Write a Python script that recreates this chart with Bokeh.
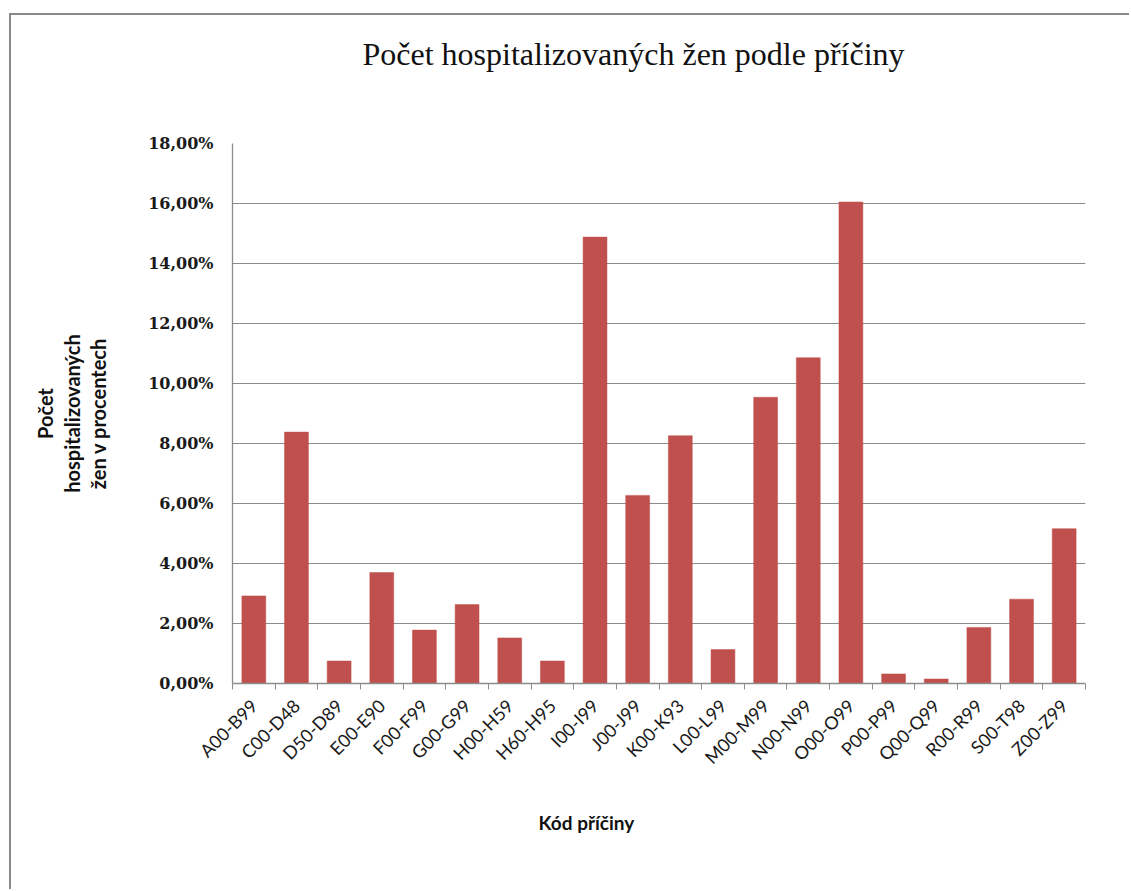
from bokeh.plotting import figure
from bokeh.models import FixedTicker, Range1d, Title
from bokeh.embed import file_html
from bokeh.resources import INLINE

categories = ["A00-B99", "C00-D48", "D50-D89", "E00-E90", "F00-F99", "G00-G99",
              "H00-H59", "H60-H95", "I00-I99", "J00-J99", "K00-K93", "L00-L99",
              "M00-M99", "N00-N99", "O00-O99", "P00-P99", "Q00-Q99", "R00-R99",
              "S00-T98", "Z00-Z99"]
values = [2.92, 8.38, 0.75, 3.70, 1.78, 2.63, 1.52, 0.75, 14.88, 6.27,
          8.26, 1.13, 9.54, 10.86, 16.05, 0.32, 0.15, 1.87, 2.81, 5.16]
y_ticks = [0, 2, 4, 6, 8, 10, 12, 14, 16, 18]
y_tick_labels = ["0,00%", "2,00%", "4,00%", "6,00%", "8,00%", "10,00%",
                 "12,00%", "14,00%", "16,00%", "18,00%"]
title_text = "Počet hospitalizovaných žen podle příčiny"
x_title = "Kód příčiny"
y_title = "Počet\nhospitalizovaných\nžen v procentech"

GRAY = "#8c8c8c"
BAR = "#C0504D"

p = figure(width=1120, height=876, output_backend="svg", toolbar_location=None,
           x_range=Range1d(0, len(categories)), y_range=Range1d(0, 18),
           min_border_left=221, min_border_right=46, min_border_top=128,
           min_border_bottom=208, margin=(13, 0, 0, 9),
           styles={"border-top": "2px solid #8a8a8a", "border-left": "2px solid #8a8a8a"})
p.outline_line_color = None
p.background_fill_color = "white"
p.border_fill_color = "white"

xs = [i + 0.5 for i in range(len(categories))]
p.vbar(x=xs, top=values, width=0.56, bottom=0, fill_color=BAR, line_color=BAR, line_width=0.5)

# x axis
xa = p.xaxis[0]
xa.ticker = FixedTicker(ticks=xs, minor_ticks=list(range(len(categories) + 1)))
xa.major_label_overrides = {x: c for x, c in zip(xs, categories)}
xa.major_label_orientation = 0.785398
xa.major_tick_out = 0
xa.major_tick_in = 0
xa.minor_tick_out = 6
xa.minor_tick_in = 0
xa.minor_tick_line_color = GRAY
xa.axis_line_color = GRAY
xa.axis_line_width = 1.3
xa.major_label_text_font = "Lato"
xa.major_label_text_font_size = "18px"
xa.major_label_text_color = "#1a1a1a"
xa.major_label_standoff = 13

# y axis
ya = p.yaxis[0]
ya.ticker = FixedTicker(ticks=y_ticks, minor_ticks=[])
ya.major_label_overrides = {t: l for t, l in zip(y_ticks, y_tick_labels)}
ya.major_tick_out = 0
ya.major_tick_in = 0
ya.minor_tick_out = 0
ya.minor_tick_in = 0
ya.axis_line_color = GRAY
ya.axis_line_width = 1.3
ya.major_label_text_font = "DejaVu Serif"
ya.major_label_text_font_style = "bold"
ya.major_label_text_font_size = "16px"
ya.major_label_text_color = "#1a1a1a"
ya.major_label_standoff = 19
ya.axis_label = y_title
ya.axis_label_text_font = "Lato"
ya.axis_label_text_font_style = "bold"
ya.axis_label_text_font_size = "20px"
ya.axis_label_text_color = "#111111"
ya.axis_label_text_line_height = 1.1
ya.axis_label_standoff = 35

p.xgrid.grid_line_color = None
p.ygrid.grid_line_color = GRAY
p.ygrid.grid_line_width = 1.2

# title (above, with a spacer between it and the plot) and x axis title (below)
p.title.text = ""
p.add_layout(Title(text=" ", text_font_size="1px", standoff=69), "above")
p.add_layout(Title(text=title_text, align="left", offset=130, standoff=0,
                   text_font="Liberation Serif", text_font_size="32px",
                   text_font_style="normal", text_color="#111111"), "above")
p.add_layout(Title(text=x_title, align="left", offset=306, standoff=61,
                   text_font="Lato", text_font_style="bold", text_font_size="19px",
                   text_color="#111111"), "below")

open("out.html", "w").write(file_html(p, INLINE))
